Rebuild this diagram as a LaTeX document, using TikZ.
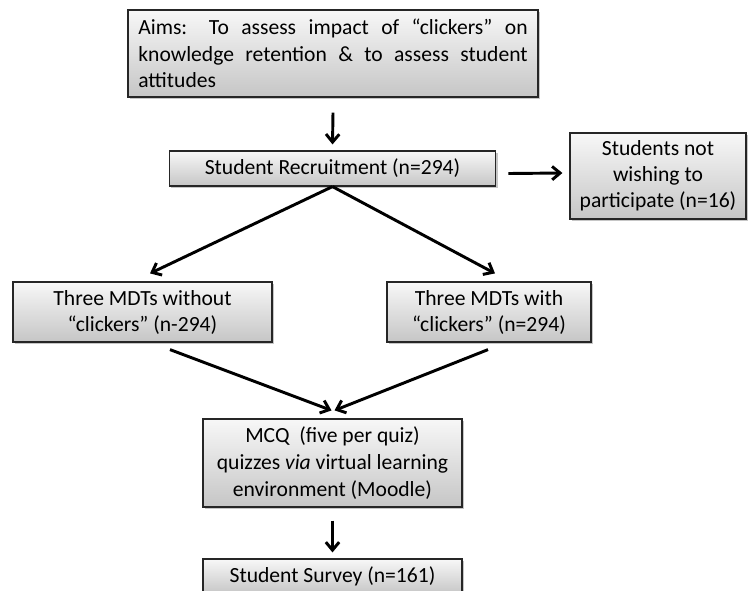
\documentclass[tikz,border=0pt]{standalone}
\usepackage{fontspec}
\setmainfont{Carlito}
\usetikzlibrary{arrows.meta,shadows,calc}

\begin{document}
\begin{tikzpicture}[x=0.75pt,y=-0.75pt,
  box/.style={draw=gray!30!black,line width=0.9pt,top color=gray!6,bottom color=gray!45,
    drop shadow={shadow xshift=1.6pt,shadow yshift=-1.6pt,opacity=0.45},
    font=\fontsize{16.2}{19.5}\selectfont,inner sep=0pt,align=center},
  arr/.style={-{Straight Barb[length=6pt,width=10pt]},line width=2.2pt}]

% frame (pixels of the page)
\useasboundingbox (0,0) rectangle (748,590);

% Boxes
\node[box,minimum width=307.5pt,minimum height=65.25pt,text width=292pt,align=justify,
  font=\fontsize{16.2}{20}\selectfont] (aims) at (333,53.5)
  {Aims: To assess impact of “clickers” on\linebreak knowledge retention \& to assess student\linebreak attitudes};
\node[box,minimum width=245pt,minimum height=26.25pt] (recruit) at (332.5,168.5) {Student Recruitment (n=294)};
\node[box,minimum width=132pt,minimum height=64.5pt] (notwish) at (658,176) {Students not\\wishing to\\participate (n=16)};
\node[box,minimum width=194.25pt,minimum height=45pt] (nomdt) at (142.5,312) {Three MDTs without\\“clickers” (n-294)};
\node[box,minimum width=153pt,minimum height=45pt] (withmdt) at (489,312) {Three MDTs with\\“clickers” (n=294)};
\node[box,minimum width=194.25pt,minimum height=66pt,font=\fontsize{16.2}{20}\selectfont] (mcq) at (332.5,463)
  {MCQ \ (five per quiz)\\quizzes \emph{via} virtual learning\\environment (Moodle)};
\node[box,minimum width=194.25pt,minimum height=26.25pt] (survey) at (332.5,576.5) {Student Survey (n=161)};

% Arrows
\draw[arr] ($(aims.south)+(0,15)$) -- ($(recruit.north)+(0,-6)$);
\draw[arr] ($(recruit.east)+(12,5)$) -- ($(notwish.west)+(-7,-3)$);
\draw[arr] (recruit.south) -- ($(nomdt.north)+(7.5,-8)$);
\draw[arr] (recruit.south) -- ($(withmdt.north)+(6,-8)$);
\draw[arr] ($(nomdt.south)+(27.5,7)$) -- ($(mcq.north)+(-1,-8)$);
\draw[arr] ($(withmdt.south)+(-1,7)$) -- ($(mcq.north)+(2,-8)$);
\draw[arr] ($(mcq.south)+(0,13)$) -- ($(survey.north)+(0,-6)$);
\end{tikzpicture}
\end{document}
